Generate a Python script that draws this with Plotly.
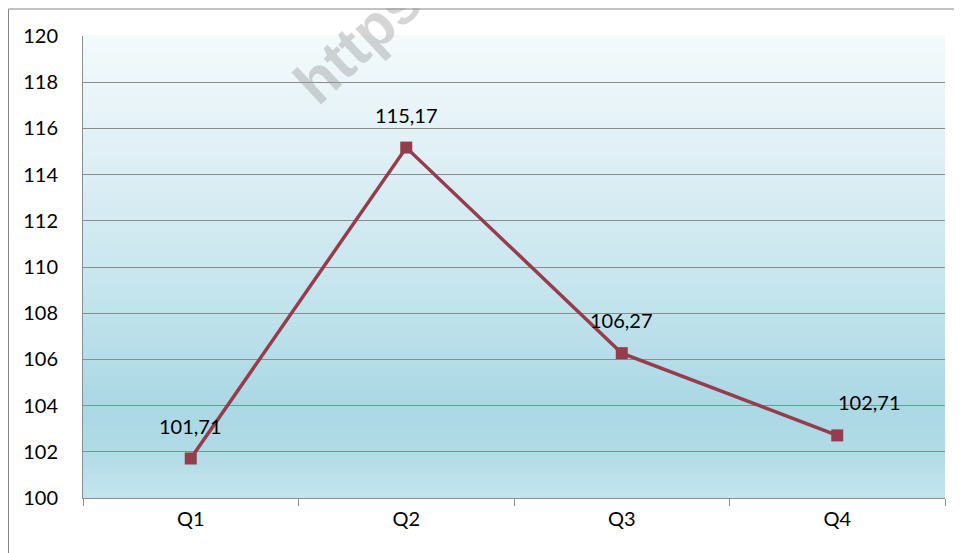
import plotly.graph_objects as go

categories = ["Q1", "Q2", "Q3", "Q4"]
values = [101.71, 115.17, 106.27, 102.71]
label_shift_x = [0, 0, 0, 32]
y_ticks = list(range(100, 122, 2))

FONT = "Lato"
LINE = "#953d4d"
GRID = "#8c8c8c"

# page has an 8px body margin: plot area at page x 83..945, y 36..498
W, H = 954, 545
ML, MT = 75, 28
PW, PH = 862, 462

fig = go.Figure()
fig.add_trace(go.Scatter(
    x=categories, y=values, mode="lines+markers",
    line=dict(color=LINE, width=3.5),
    marker=dict(symbol="square", size=12, color=LINE),
    hoverinfo="skip", showlegend=False,
))

for c, v, dx in zip(categories, values, label_shift_x):
    fig.add_annotation(x=c, y=v, text=f"{v:.2f}".replace(".", ","),
                       showarrow=False, xshift=dx, yshift=33,
                       font=dict(family=FONT, size=20, color="black"))

stops = [(0.0, (244, 250, 252)), (0.3, (220, 238, 244)), (0.55, (198, 229, 238)),
         (0.8, (170, 216, 228)), (0.9, (176, 219, 230)), (1.0, (197, 229, 237))]
N = 80
def col(t):
    for (t0, c0), (t1, c1) in zip(stops[:-1], stops[1:]):
        if t0 <= t <= t1:
            f = (t - t0) / (t1 - t0)
            return "rgb(%d,%d,%d)" % tuple(round(a + (b - a) * f) for a, b in zip(c0, c1))
    return "rgb(%d,%d,%d)" % stops[-1][1]
for i in range(N):
    t = (i + 0.5) / N
    fig.add_shape(type="rect", xref="x domain", yref="y domain",
                  x0=0, x1=1, y0=1 - (i + 1) / N, y1=1 - i / N + 0.002,
                  fillcolor=col(t), line=dict(width=0), layer="below")

def px_x(page_x):
    return (page_x - 8 - ML) / PW
def px_y(page_y):
    return (MT + PH - (page_y - 8)) / PH

fig.add_shape(type="rect", xref="paper", yref="paper",
              x0=px_x(8.5), x1=px_x(961), y0=px_y(600), y1=px_y(9),
              line=dict(color="#868686", width=1), fillcolor="rgba(0,0,0,0)", layer="below")

fig.add_annotation(xref="paper", yref="paper", x=px_x(357), y=px_y(42),
                   xanchor="center", yanchor="middle",
                   text="<b>https</b>", showarrow=False, textangle=-43,
                   font=dict(family="Liberation Sans", size=60, color="rgba(150,150,150,0.40)"))

fig.update_layout(
    width=W, height=H,
    margin=dict(l=ML, r=W - ML - PW, t=MT, b=H - MT - PH),
    paper_bgcolor="white", plot_bgcolor="rgba(0,0,0,0)",
    font=dict(family=FONT, size=20, color="black"),
    xaxis=dict(type="category", range=[-0.5, 3.5], showgrid=False, showline=True,
               linecolor=GRID, linewidth=1,
               ticks="outside", tickson="boundaries", ticklen=7, tickcolor=GRID,
               tickfont=dict(family=FONT, size=20), ticklabelstandoff=3),
    yaxis=dict(range=[100, 120], tickvals=y_ticks, showgrid=True, gridcolor=GRID, gridwidth=1,
               showline=True, linecolor=GRID, linewidth=1, ticks="", zeroline=False,
               tickfont=dict(family=FONT, size=20), ticklabelstandoff=20),
)

fig.write_html("out.html")
